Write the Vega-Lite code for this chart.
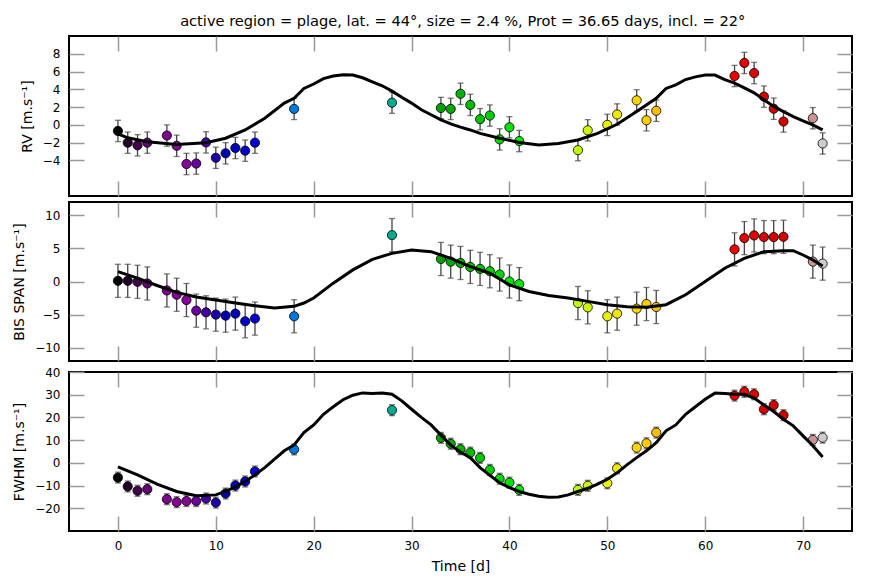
{
  "$schema": "https://vega.github.io/schema/vega-lite/v6.json",
  "padding": {"left": 11, "top": 13, "right": 5, "bottom": 5},
  "title": {"text": "active region = plage, lat. = 44°, size = 2.4 %, Prot = 36.65 days, incl. = 22°", "fontSize": 14.6, "fontWeight": "normal", "font": "DejaVu Sans", "anchor": "middle", "offset": 6, "dx": 30},
  "datasets": {
    "obs": [
      {"t": 0, "rv": -0.68, "bis": 0.1, "fwhm": -6.5, "rv_err": 1.2, "bis_err": 2.5, "fwhm_err": 2.4},
      {"t": 1, "rv": -2.0, "bis": 0.1, "fwhm": -10.4, "rv_err": 1.2, "bis_err": 2.5, "fwhm_err": 2.4},
      {"t": 2, "rv": -2.3, "bis": -0.05, "fwhm": -12.3, "rv_err": 1.2, "bis_err": 2.5, "fwhm_err": 2.4},
      {"t": 3, "rv": -2.0, "bis": -0.3, "fwhm": -11.6, "rv_err": 1.2, "bis_err": 2.5, "fwhm_err": 2.4},
      {"t": 5, "rv": -1.2, "bis": -1.35, "fwhm": -16.0, "rv_err": 1.2, "bis_err": 2.5, "fwhm_err": 2.4},
      {"t": 6, "rv": -2.35, "bis": -2.0, "fwhm": -17.3, "rv_err": 1.2, "bis_err": 2.5, "fwhm_err": 2.4},
      {"t": 7, "rv": -4.4, "bis": -2.8, "fwhm": -16.8, "rv_err": 1.2, "bis_err": 2.5, "fwhm_err": 2.4},
      {"t": 8, "rv": -4.35, "bis": -4.4, "fwhm": -16.8, "rv_err": 1.2, "bis_err": 2.5, "fwhm_err": 2.4},
      {"t": 9, "rv": -1.97, "bis": -4.65, "fwhm": -15.7, "rv_err": 1.2, "bis_err": 2.5, "fwhm_err": 2.4},
      {"t": 10, "rv": -3.7, "bis": -5.0, "fwhm": -17.5, "rv_err": 1.2, "bis_err": 2.5, "fwhm_err": 2.4},
      {"t": 11, "rv": -3.2, "bis": -5.15, "fwhm": -13.5, "rv_err": 1.2, "bis_err": 2.5, "fwhm_err": 2.4},
      {"t": 12, "rv": -2.6, "bis": -4.85, "fwhm": -10.0, "rv_err": 1.2, "bis_err": 2.5, "fwhm_err": 2.4},
      {"t": 13, "rv": -2.9, "bis": -6.0, "fwhm": -8.2, "rv_err": 1.2, "bis_err": 2.5, "fwhm_err": 2.4},
      {"t": 14, "rv": -2.0, "bis": -5.6, "fwhm": -3.8, "rv_err": 1.2, "bis_err": 2.5, "fwhm_err": 2.4},
      {"t": 18, "rv": 1.8, "bis": -5.25, "fwhm": 5.9, "rv_err": 1.2, "bis_err": 2.5, "fwhm_err": 2.4},
      {"t": 28, "rv": 2.5, "bis": 7.0, "fwhm": 23.2, "rv_err": 1.2, "bis_err": 2.5, "fwhm_err": 2.4},
      {"t": 33, "rv": 1.9, "bis": 3.4, "fwhm": 11.0, "rv_err": 1.2, "bis_err": 2.5, "fwhm_err": 2.4},
      {"t": 34, "rv": 1.8, "bis": 3.0, "fwhm": 8.4, "rv_err": 1.2, "bis_err": 2.5, "fwhm_err": 2.4},
      {"t": 35, "rv": 3.5, "bis": 2.8, "fwhm": 6.0, "rv_err": 1.2, "bis_err": 2.5, "fwhm_err": 2.4},
      {"t": 36, "rv": 2.25, "bis": 2.2, "fwhm": 4.5, "rv_err": 1.2, "bis_err": 2.5, "fwhm_err": 2.4},
      {"t": 37, "rv": 0.64, "bis": 1.9, "fwhm": 2.2, "rv_err": 1.2, "bis_err": 2.5, "fwhm_err": 2.4},
      {"t": 38, "rv": 1.05, "bis": 1.55, "fwhm": -3.1, "rv_err": 1.2, "bis_err": 2.5, "fwhm_err": 2.4},
      {"t": 39, "rv": -1.63, "bis": 1.05, "fwhm": -7.0, "rv_err": 1.2, "bis_err": 2.5, "fwhm_err": 2.4},
      {"t": 40, "rv": -0.27, "bis": 0.0, "fwhm": -8.7, "rv_err": 1.2, "bis_err": 2.5, "fwhm_err": 2.4},
      {"t": 41, "rv": -1.82, "bis": -0.4, "fwhm": -11.9, "rv_err": 1.2, "bis_err": 2.5, "fwhm_err": 2.4},
      {"t": 47, "rv": -2.84, "bis": -3.25, "fwhm": -11.9, "rv_err": 1.2, "bis_err": 2.5, "fwhm_err": 2.4},
      {"t": 48, "rv": -0.61, "bis": -3.9, "fwhm": -10.1, "rv_err": 1.2, "bis_err": 2.5, "fwhm_err": 2.4},
      {"t": 50, "rv": 0.0, "bis": -5.25, "fwhm": -9.0, "rv_err": 1.2, "bis_err": 2.5, "fwhm_err": 2.4},
      {"t": 51, "rv": 1.17, "bis": -4.85, "fwhm": -2.4, "rv_err": 1.2, "bis_err": 2.5, "fwhm_err": 2.4},
      {"t": 53, "rv": 2.76, "bis": -4.1, "fwhm": 6.7, "rv_err": 1.2, "bis_err": 2.5, "fwhm_err": 2.4},
      {"t": 54, "rv": 0.52, "bis": -3.4, "fwhm": 8.6, "rv_err": 1.2, "bis_err": 2.5, "fwhm_err": 2.4},
      {"t": 55, "rv": 1.59, "bis": -3.85, "fwhm": 13.3, "rv_err": 1.2, "bis_err": 2.5, "fwhm_err": 2.4},
      {"t": 63, "rv": 5.5, "bis": 4.85, "fwhm": 29.6, "rv_err": 1.2, "bis_err": 2.5, "fwhm_err": 2.4},
      {"t": 64, "rv": 6.97, "bis": 6.55, "fwhm": 31.3, "rv_err": 1.2, "bis_err": 2.5, "fwhm_err": 2.4},
      {"t": 65, "rv": 5.83, "bis": 6.95, "fwhm": 30.2, "rv_err": 1.2, "bis_err": 2.5, "fwhm_err": 2.4},
      {"t": 66, "rv": 3.18, "bis": 6.7, "fwhm": 23.6, "rv_err": 1.2, "bis_err": 2.5, "fwhm_err": 2.4},
      {"t": 67, "rv": 1.82, "bis": 6.7, "fwhm": 25.4, "rv_err": 1.2, "bis_err": 2.5, "fwhm_err": 2.4},
      {"t": 68, "rv": 0.38, "bis": 6.75, "fwhm": 21.0, "rv_err": 1.2, "bis_err": 2.5, "fwhm_err": 2.4},
      {"t": 71, "rv": 0.75, "bis": 3.0, "fwhm": 10.1, "rv_err": 1.2, "bis_err": 2.5, "fwhm_err": 2.4},
      {"t": 72, "rv": -2.09, "bis": 2.7, "fwhm": 11.1, "rv_err": 1.2, "bis_err": 2.5, "fwhm_err": 2.4}
    ],
    "model_rv": [
      {"t": 0, "v": -1.0}, {"t": 1, "v": -1.45}, {"t": 3, "v": -1.9}, {"t": 6, "v": -2.2}, {"t": 9, "v": -2.0},
      {"t": 11, "v": -1.5}, {"t": 13, "v": -0.57}, {"t": 15, "v": 0.75}, {"t": 17, "v": 2.45}, {"t": 18, "v": 3.0},
      {"t": 19, "v": 4.1}, {"t": 20, "v": 4.6}, {"t": 21, "v": 5.2}, {"t": 22, "v": 5.5}, {"t": 23, "v": 5.64},
      {"t": 24, "v": 5.6}, {"t": 25, "v": 5.3}, {"t": 26, "v": 4.84}, {"t": 27, "v": 4.4}, {"t": 28, "v": 3.8},
      {"t": 29, "v": 3.1}, {"t": 30, "v": 2.45}, {"t": 31, "v": 1.7}, {"t": 32, "v": 1.14}, {"t": 33, "v": 0.57},
      {"t": 34, "v": 0.11}, {"t": 35, "v": -0.25}, {"t": 36, "v": -0.57}, {"t": 37, "v": -0.95}, {"t": 39, "v": -1.5},
      {"t": 41, "v": -1.97}, {"t": 43, "v": -2.27}, {"t": 45, "v": -2.1}, {"t": 47, "v": -1.7}, {"t": 49, "v": -0.95},
      {"t": 51, "v": 0.07}, {"t": 53, "v": 1.5}, {"t": 55, "v": 3.0}, {"t": 56, "v": 4.1}, {"t": 57, "v": 4.5},
      {"t": 58, "v": 5.1}, {"t": 59, "v": 5.4}, {"t": 60, "v": 5.6}, {"t": 61, "v": 5.6}, {"t": 62, "v": 5.1},
      {"t": 63, "v": 4.7}, {"t": 64, "v": 4.16}, {"t": 65, "v": 3.6}, {"t": 66, "v": 2.84}, {"t": 67, "v": 2.08},
      {"t": 68, "v": 1.5}, {"t": 69, "v": 0.94}, {"t": 70, "v": 0.45}, {"t": 71, "v": 0.0}, {"t": 72, "v": -0.57}
    ],
    "model_bis": [
      {"t": 0, "v": 1.5}, {"t": 2, "v": 0.5}, {"t": 4, "v": -0.6}, {"t": 6, "v": -1.65}, {"t": 8, "v": -2.35},
      {"t": 10, "v": -2.8}, {"t": 12, "v": -3.25}, {"t": 14, "v": -3.65}, {"t": 16, "v": -4.0}, {"t": 18, "v": -3.75},
      {"t": 19, "v": -3.25}, {"t": 20, "v": -2.5}, {"t": 22, "v": -0.25}, {"t": 24, "v": 1.75}, {"t": 26, "v": 3.35},
      {"t": 28, "v": 4.25}, {"t": 30, "v": 4.75}, {"t": 32, "v": 4.5}, {"t": 34, "v": 3.5}, {"t": 36, "v": 2.25},
      {"t": 38, "v": 1.25}, {"t": 40, "v": -0.5}, {"t": 42, "v": -1.5}, {"t": 44, "v": -2.1}, {"t": 46, "v": -2.5},
      {"t": 48, "v": -3.0}, {"t": 50, "v": -3.5}, {"t": 52, "v": -3.8}, {"t": 54, "v": -3.9}, {"t": 56, "v": -3.5},
      {"t": 58, "v": -2.0}, {"t": 60, "v": 0.0}, {"t": 62, "v": 2.0}, {"t": 64, "v": 3.5}, {"t": 66, "v": 4.5},
      {"t": 68, "v": 4.65}, {"t": 69, "v": 4.65}, {"t": 70, "v": 4.0}, {"t": 71, "v": 3.25}, {"t": 72, "v": 2.35}
    ],
    "model_fwhm": [
      {"t": 0, "v": -1.8}, {"t": 2, "v": -5.3}, {"t": 4, "v": -9.4}, {"t": 6, "v": -12.6}, {"t": 8, "v": -14.5},
      {"t": 10, "v": -14.1}, {"t": 11, "v": -12.6}, {"t": 12, "v": -10.6}, {"t": 13, "v": -8.2}, {"t": 14, "v": -5.3},
      {"t": 15, "v": -2.1}, {"t": 16, "v": 1.6}, {"t": 17, "v": 5.3}, {"t": 18, "v": 7.9}, {"t": 19, "v": 13.3},
      {"t": 20, "v": 16.7}, {"t": 21, "v": 21.4}, {"t": 22, "v": 24.7}, {"t": 23, "v": 27.8}, {"t": 24, "v": 29.8},
      {"t": 25, "v": 30.8}, {"t": 26, "v": 30.5}, {"t": 27, "v": 30.7}, {"t": 28, "v": 30.2}, {"t": 29, "v": 27.3},
      {"t": 30, "v": 23.6}, {"t": 31, "v": 20.0}, {"t": 32, "v": 16.7}, {"t": 33, "v": 12.2}, {"t": 34, "v": 7.8},
      {"t": 35, "v": 4.8}, {"t": 36, "v": 2.3}, {"t": 37, "v": -2.1}, {"t": 38, "v": -5.5}, {"t": 39, "v": -8.7},
      {"t": 40, "v": -10.9}, {"t": 41, "v": -12.6}, {"t": 42, "v": -13.8}, {"t": 43, "v": -14.7}, {"t": 44, "v": -15.1},
      {"t": 45, "v": -15.0}, {"t": 46, "v": -14.1}, {"t": 47, "v": -12.6}, {"t": 48, "v": -11.2}, {"t": 49, "v": -9.4},
      {"t": 50, "v": -7.2}, {"t": 51, "v": -4.4}, {"t": 52, "v": -0.9}, {"t": 53, "v": 2.3}, {"t": 54, "v": 5.3},
      {"t": 55, "v": 8.9}, {"t": 56, "v": 14.1}, {"t": 57, "v": 16.7}, {"t": 58, "v": 21.4}, {"t": 59, "v": 24.7},
      {"t": 60, "v": 28.0}, {"t": 61, "v": 30.7}, {"t": 62, "v": 30.5}, {"t": 63, "v": 30.2}, {"t": 64, "v": 30.2},
      {"t": 65, "v": 28.5}, {"t": 66, "v": 25.5}, {"t": 67, "v": 22.6}, {"t": 68, "v": 19.2}, {"t": 69, "v": 16.3},
      {"t": 70, "v": 11.9}, {"t": 71, "v": 7.5}, {"t": 72, "v": 2.6}
    ]
  },
  "spacing": 2,
  "vconcat": [
    {
      "width": 783, "height": 160,
      "layer": [
        {
          "data": {"name": "obs"},
          "mark": {"type": "errorbar", "ticks": {"size": 6}, "color": "#444444", "thickness": 1.3},
          "encoding": {
            "x": {"field": "t", "type": "quantitative", "scale": {"domain": [-5, 75], "nice": false, "zero": false}, "axis": {"orient": "bottom", "values": [0, 10, 20, 30, 40, 50, 60, 70], "labels": false, "title": null}},
            "y": {"field": "rv", "type": "quantitative", "scale": {"domain": [-8, 10], "nice": false, "zero": false}, "axis": {"orient": "left", "values": [-4, -2, 0, 2, 4, 6, 8], "title": "RV [m.s⁻¹]"}},
            "yError": {"field": "rv_err"}
          }
        },
        {
          "data": {"name": "obs"},
          "mark": {"type": "point", "filled": true, "size": 85, "stroke": "black", "strokeWidth": 0.8, "opacity": 1},
          "encoding": {
            "x": {"field": "t", "type": "quantitative", "scale": {"domain": [-5, 75], "nice": false, "zero": false}, "axis": null},
            "y": {"field": "rv", "type": "quantitative", "scale": {"domain": [-8, 10], "nice": false, "zero": false}, "axis": null},
            "fill": {"field": "t", "type": "quantitative", "scale": {"domain": [0, 3.6, 7.2, 10.8, 14.4, 18, 21.6, 25.2, 28.8, 32.4, 36, 39.6, 43.2, 46.8, 50.4, 54, 57.6, 61.2, 64.8, 68.4, 72], "range": ["#000000", "#770088", "#880099", "#0000aa", "#0000dd", "#0077dd", "#0099dd", "#00aaaa", "#00aa88", "#009900", "#00bb00", "#00dd00", "#00ff00", "#bbff00", "#eeee00", "#ffcc00", "#ff9900", "#ff0000", "#dd0000", "#cc0000", "#cccccc"], "interpolate": "rgb"}, "legend": null}
          }
        },
        {
          "data": {"name": "model_rv"},
          "mark": {"type": "line", "color": "black", "strokeWidth": 3},
          "encoding": {
            "x": {"field": "t", "type": "quantitative", "scale": {"domain": [-5, 75], "nice": false, "zero": false}, "axis": {"orient": "top", "values": [0, 10, 20, 30, 40, 50, 60, 70], "labels": false, "title": null}},
            "y": {"field": "v", "type": "quantitative", "scale": {"domain": [-8, 10], "nice": false, "zero": false}, "axis": {"orient": "right", "values": [-4, -2, 0, 2, 4, 6, 8], "labels": false, "title": null}}
          }
        }
      ],
      "resolve": {"axis": {"x": "independent", "y": "independent"}}
    },
    {
      "width": 783, "height": 159,
      "layer": [
        {
          "data": {"name": "obs"},
          "mark": {"type": "errorbar", "ticks": {"size": 6}, "color": "#444444", "thickness": 1.3},
          "encoding": {
            "x": {"field": "t", "type": "quantitative", "scale": {"domain": [-5, 75], "nice": false, "zero": false}, "axis": {"orient": "bottom", "values": [0, 10, 20, 30, 40, 50, 60, 70], "labels": false, "title": null}},
            "y": {"field": "bis", "type": "quantitative", "scale": {"domain": [-12, 12], "nice": false, "zero": false}, "axis": {"orient": "left", "values": [-10, -5, 0, 5, 10], "title": "BIS SPAN [m.s⁻¹]"}},
            "yError": {"field": "bis_err"}
          }
        },
        {
          "data": {"name": "obs"},
          "mark": {"type": "point", "filled": true, "size": 85, "stroke": "black", "strokeWidth": 0.8, "opacity": 1},
          "encoding": {
            "x": {"field": "t", "type": "quantitative", "scale": {"domain": [-5, 75], "nice": false, "zero": false}, "axis": null},
            "y": {"field": "bis", "type": "quantitative", "scale": {"domain": [-12, 12], "nice": false, "zero": false}, "axis": null},
            "fill": {"field": "t", "type": "quantitative", "scale": {"domain": [0, 3.6, 7.2, 10.8, 14.4, 18, 21.6, 25.2, 28.8, 32.4, 36, 39.6, 43.2, 46.8, 50.4, 54, 57.6, 61.2, 64.8, 68.4, 72], "range": ["#000000", "#770088", "#880099", "#0000aa", "#0000dd", "#0077dd", "#0099dd", "#00aaaa", "#00aa88", "#009900", "#00bb00", "#00dd00", "#00ff00", "#bbff00", "#eeee00", "#ffcc00", "#ff9900", "#ff0000", "#dd0000", "#cc0000", "#cccccc"], "interpolate": "rgb"}, "legend": null}
          }
        },
        {
          "data": {"name": "model_bis"},
          "mark": {"type": "line", "color": "black", "strokeWidth": 3},
          "encoding": {
            "x": {"field": "t", "type": "quantitative", "scale": {"domain": [-5, 75], "nice": false, "zero": false}, "axis": {"orient": "top", "values": [0, 10, 20, 30, 40, 50, 60, 70], "labels": false, "title": null}},
            "y": {"field": "v", "type": "quantitative", "scale": {"domain": [-12, 12], "nice": false, "zero": false}, "axis": {"orient": "right", "values": [-10, -5, 0, 5, 10], "labels": false, "title": null}}
          }
        }
      ],
      "resolve": {"axis": {"x": "independent", "y": "independent"}}
    },
    {
      "width": 783, "height": 159,
      "layer": [
        {
          "data": {"name": "obs"},
          "mark": {"type": "errorbar", "ticks": {"size": 6}, "color": "#444444", "thickness": 1.3},
          "encoding": {
            "x": {"field": "t", "type": "quantitative", "scale": {"domain": [-5, 75], "nice": false, "zero": false}, "axis": {"orient": "bottom", "values": [0, 10, 20, 30, 40, 50, 60, 70], "title": "Time [d]"}},
            "y": {"field": "fwhm", "type": "quantitative", "scale": {"domain": [-30, 40], "nice": false, "zero": false}, "axis": {"orient": "left", "values": [-20, -10, 0, 10, 20, 30, 40], "title": "FWHM [m.s⁻¹]"}},
            "yError": {"field": "fwhm_err"}
          }
        },
        {
          "data": {"name": "obs"},
          "mark": {"type": "point", "filled": true, "size": 85, "stroke": "black", "strokeWidth": 0.8, "opacity": 1},
          "encoding": {
            "x": {"field": "t", "type": "quantitative", "scale": {"domain": [-5, 75], "nice": false, "zero": false}, "axis": null},
            "y": {"field": "fwhm", "type": "quantitative", "scale": {"domain": [-30, 40], "nice": false, "zero": false}, "axis": null},
            "fill": {"field": "t", "type": "quantitative", "scale": {"domain": [0, 3.6, 7.2, 10.8, 14.4, 18, 21.6, 25.2, 28.8, 32.4, 36, 39.6, 43.2, 46.8, 50.4, 54, 57.6, 61.2, 64.8, 68.4, 72], "range": ["#000000", "#770088", "#880099", "#0000aa", "#0000dd", "#0077dd", "#0099dd", "#00aaaa", "#00aa88", "#009900", "#00bb00", "#00dd00", "#00ff00", "#bbff00", "#eeee00", "#ffcc00", "#ff9900", "#ff0000", "#dd0000", "#cc0000", "#cccccc"], "interpolate": "rgb"}, "legend": null}
          }
        },
        {
          "data": {"name": "model_fwhm"},
          "mark": {"type": "line", "color": "black", "strokeWidth": 3},
          "encoding": {
            "x": {"field": "t", "type": "quantitative", "scale": {"domain": [-5, 75], "nice": false, "zero": false}, "axis": {"orient": "top", "values": [0, 10, 20, 30, 40, 50, 60, 70], "labels": false, "title": null}},
            "y": {"field": "v", "type": "quantitative", "scale": {"domain": [-30, 40], "nice": false, "zero": false}, "axis": {"orient": "right", "values": [-20, -10, 0, 10, 20, 30, 40], "labels": false, "title": null}}
          }
        }
      ],
      "resolve": {"axis": {"x": "independent", "y": "independent"}}
    }
  ],
  "config": {
    "font": "DejaVu Sans",
    "view": {"stroke": "black", "strokeWidth": 2},
    "axis": {
      "grid": false, "domain": false, "minExtent": 0,
      "tickColor": "#999999", "tickWidth": 1.5, "tickSize": -15,
      "labelPadding": 24, "labelFontSize": 12, "labelColor": "black", "labelFont": "DejaVu Sans",
      "titleFontSize": 14, "titleFontWeight": "normal", "titleColor": "black", "titleFont": "DejaVu Sans", "titlePadding": 8
    }
  }
}
